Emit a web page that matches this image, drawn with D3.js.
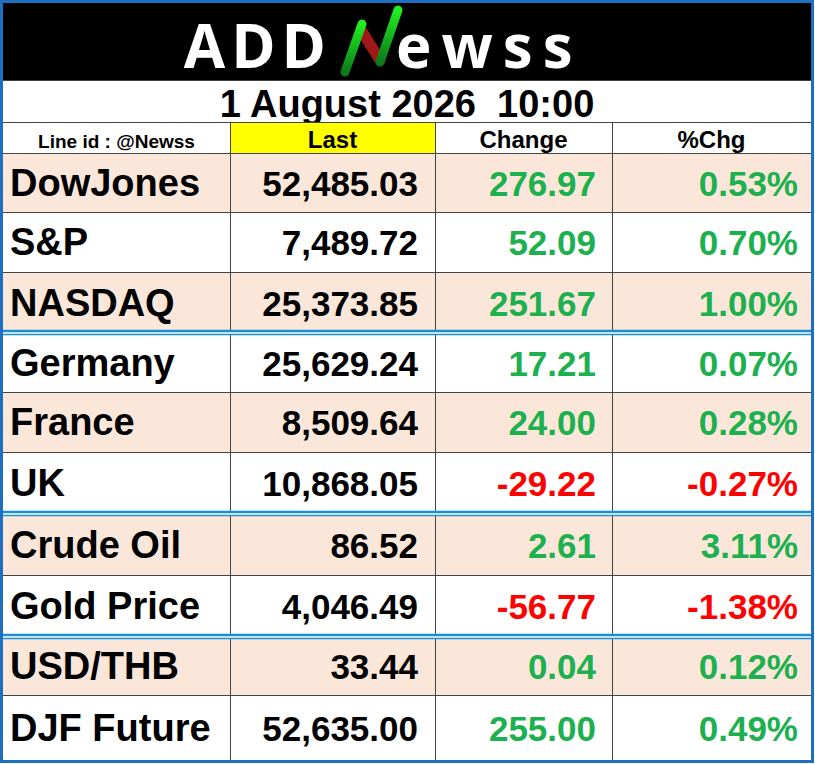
<!DOCTYPE html>
<html><head><meta charset="utf-8">
<script src="https://cdn.jsdelivr.net/npm/d3@7"></script>
<style>body{margin:0;background:#fff}svg{display:block}</style>
</head><body><svg id="c" width="815" height="764"></svg>
<script>
const names = ['DowJones','S&P','NASDAQ','Germany','France','UK','Crude Oil','Gold Price','USD/THB','DJF Future'];
const last = ['52,485.03','7,489.72','25,373.85','25,629.24','8,509.64','10,868.05','86.52','4,046.49','33.44','52,635.00'];
const change = ['276.97','52.09','251.67','17.21','24.00','-29.22','2.61','-56.77','0.04','255.00'];
const pct = ['0.53%','0.70%','1.00%','0.07%','0.28%','-0.27%','3.11%','-1.38%','0.12%','0.49%'];
const headers = ['Line id : @Newss','Last','Change','%Chg'];
const groupEnds = [2,5,7]; // blue separator after these rows

const svg = d3.select('#c');
const font = "'Liberation Sans',sans-serif";
const colX = [3,230,435,612,811];
const rowY = [153,212,272,333,392,452,514,575,637,695,760];

svg.append('rect').attr('x',0).attr('y',0).attr('width',815).attr('height',764).attr('fill','#fff');
svg.append('rect').attr('x',3).attr('y',3).attr('width',808).attr('height',77).attr('fill','#000');
const logo = svg.append('g').attr('font-family',"'Open Sans','DejaVu Sans',sans-serif").attr('font-weight',700).attr('fill','#fff').attr('font-size',60);
logo.append('text').attr('x',332).attr('y',68).attr('text-anchor','end').attr('letter-spacing',6).text('ADD');
logo.append('text').attr('x',396).attr('y',68).attr('letter-spacing',10).text('ewss');
const gr = svg.append('defs').append('linearGradient').attr('id','ng').attr('x1',0).attr('y1',1).attr('x2',0).attr('y2',0);
gr.append('stop').attr('offset',0).attr('stop-color','#0a7a1a');
gr.append('stop').attr('offset',1).attr('stop-color','#22ee22');
svg.append('path').attr('d','M361,30 L380,60').attr('stroke','#a01818').attr('stroke-width',11).attr('stroke-linecap','round');
svg.append('path').attr('d','M345,72 L362,24').attr('stroke','url(#ng)').attr('stroke-width',9).attr('stroke-linecap','round');
svg.append('path').attr('d','M380,62 L398,10').attr('stroke','url(#ng)').attr('stroke-width',9).attr('stroke-linecap','round');

svg.append('text').attr('x',407).attr('y',117).attr('text-anchor','middle').attr('font-family',font).attr('font-weight',700).attr('font-size',38).attr('xml:space','preserve').text('1 August 2026  10:00');
svg.append('rect').attr('x',230).attr('y',122).attr('width',205).attr('height',31).attr('fill','#ffff00');

const x = i => colX[i];
names.forEach((n,i)=>{
  svg.append('rect').attr('x',3).attr('y',rowY[i]).attr('width',808).attr('height',rowY[i+1]-rowY[i]).attr('fill', i%2===0 ? '#fbe7da' : '#fff');
});
const grid = svg.append('g').attr('stroke','#444').attr('stroke-width',1);
[80,122,153].concat(rowY.slice(1,-1)).forEach(y=>grid.append('line').attr('x1',3).attr('x2',811).attr('y1',y+0.5).attr('y2',y+0.5));
colX.slice(1,-1).forEach(cx=>grid.append('line').attr('x1',cx+0.5).attr('x2',cx+0.5).attr('y1',122).attr('y2',760));
groupEnds.forEach(i=>{
  const y=rowY[i+1];
  svg.append('rect').attr('x',3).attr('y',y-3).attr('width',808).attr('height',5).attr('fill','#fff');
  svg.append('line').attr('x1',3).attr('x2',811).attr('y1',y-2).attr('y2',y-2).attr('stroke','#1a8fd6').attr('stroke-width',2.5);
  svg.append('line').attr('x1',3).attr('x2',811).attr('y1',y+1.5).attr('y2',y+1.5).attr('stroke','#1a8fd6').attr('stroke-width',1.5);
});
headers.forEach((h,i)=>{
  svg.append('text').attr('x',(x(i)+x(i+1))/2).attr('y',148).attr('text-anchor','middle')
    .attr('font-family',font).attr('font-weight',700).attr('font-size',i===0?19:24).text(h);
});
const col = v => v.startsWith('-') ? '#ff0000' : '#1db04f';
names.forEach((n,i)=>{
  const cy=(rowY[i]+rowY[i+1])/2+13;
  const t=(xx,anchor,s,fill,size)=>svg.append('text').attr('x',xx).attr('y',cy).attr('text-anchor',anchor)
    .attr('font-family',font).attr('font-weight',700).attr('font-size',size).attr('fill',fill).text(s);
  t(10,'start',n,'#000',38);
  t(418,'end',last[i],'#000',35);
  t(596,'end',change[i],col(change[i]),35);
  t(798,'end',pct[i],col(pct[i]),35);
});
svg.append('rect').attr('x',1.5).attr('y',1.5).attr('width',811).attr('height',760).attr('fill','none').attr('stroke','#1f6fc0').attr('stroke-width',3);
</script></body></html>
